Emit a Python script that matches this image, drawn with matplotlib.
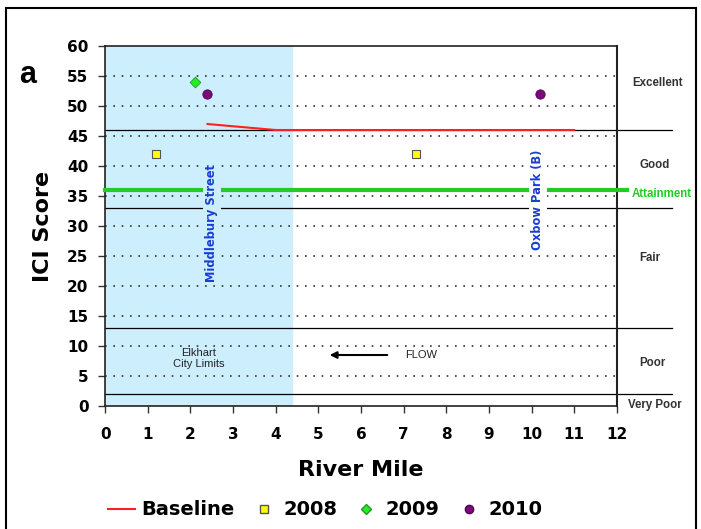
import matplotlib
matplotlib.use("Agg")
import matplotlib.pyplot as plt
from matplotlib.lines import Line2D
from matplotlib.patches import Rectangle

# Data
baseline_x = [2.4, 4.0, 11.0]
baseline_y = [47, 46, 46]
x2008 = [1.2, 7.3]
y2008 = [42, 42]
x2009 = [2.1]
y2009 = [54]
x2010 = [2.4, 10.2]
y2010 = [52, 52]
thresholds = [46, 33, 13, 2]
attainment = 36
class_labels = ["Excellent", "Good", "Fair", "Poor", "Very Poor"]
class_label_x = [12.96, 12.89, 12.77, 12.84, 12.89]
class_label_y = [53.8, 40.2, 24.6, 7.1, 0.2]

fig = plt.figure(figsize=(7.01, 5.29), dpi=100)
ax = fig.add_axes([0.150, 0.2325, 0.730, 0.6805])
ax.set_xlim(0, 12)
ax.set_ylim(0, 60)

# figure border
fig.patches.append(Rectangle((0.008, -0.02), 0.985, 1.005, transform=fig.transFigure,
                             fill=False, edgecolor='black', linewidth=1.5))

# shaded region
ax.axvspan(0, 4.38, color='#cdeefc', zorder=0)

# dotted gridlines
for v in range(5, 60, 5):
    ax.plot([0, 12], [v, v], linestyle=(0, (1, 4)), color='#333333', linewidth=1.2, zorder=1)

# threshold lines extending beyond axes
for t in thresholds:
    ax.plot([0, 13.3], [t, t], color='black', linewidth=0.9, clip_on=False, zorder=2)

# attainment line
ax.plot([0, 12.23], [attainment, attainment], color='#22cc22', linewidth=3, clip_on=False, zorder=3)

# vertical site labels with background to create gaps
ax.text(2.5, 30.5, "Middlebury Street", rotation=90, ha='center', va='center', color='#1a3fd0',
        fontsize=8.3, fontweight='bold', zorder=4,
        bbox=dict(boxstyle='square,pad=0.2', fc='#cdeefc', ec='none'))
ax.text(10.15, 34.3, "Oxbow Park (B)", rotation=90, ha='center', va='center', color='#1a3fd0',
        fontsize=8.3, fontweight='bold', zorder=4,
        bbox=dict(boxstyle='square,pad=0.2', fc='white', ec='none'))

# baseline
ax.plot(baseline_x, baseline_y, color='#ff2020', linewidth=1.5, zorder=5)

# points
ax.scatter(x2008, y2008, marker='s', s=40, facecolor='#ffff00', edgecolor='#555555', linewidth=0.8, zorder=6)
ax.scatter(x2009, y2009, marker='D', s=30, facecolor='#22ee22', edgecolor='#229922', linewidth=0.6, zorder=6)
ax.scatter(x2010, y2010, marker='o', s=45, facecolor='#7a0a7a', edgecolor='#550055', linewidth=0.6, zorder=6)

# annotations
ax.text(2.2, 7.9, "Elkhart\nCity Limits", ha='center', va='center', fontsize=8, color='#222222',
        linespacing=1.2, family='Liberation Sans')
ax.annotate("", xy=(5.2, 8.5), xytext=(6.68, 8.5),
            arrowprops=dict(arrowstyle='-|>', color='black', lw=1.5, mutation_scale=10))
ax.text(7.4, 8.5, "FLOW", ha='center', va='center', fontsize=8, color='#222222', family='Liberation Sans')

# class labels on right
for lab, xv, yv in zip(class_labels, class_label_x, class_label_y):
    ax.text(xv, yv, lab, ha='center', va='center', fontsize=8.3, fontweight='bold',
            color='#333333', clip_on=False, family='Liberation Sans')
ax.text(13.05, 35.3, "Attainment", ha='center', va='center', fontsize=8.3, fontweight='bold',
        color='#22cc22', clip_on=False, family='Liberation Sans')

# axes styling
ax.set_xticks(range(0, 13))
ax.set_yticks(range(0, 61, 5))
for lbl in ax.get_xticklabels() + ax.get_yticklabels():
    lbl.set_fontweight('bold')
    lbl.set_fontsize(11)
    lbl.set_family('DejaVu Sans')
ax.tick_params(axis='both', direction='out', length=5, width=1, color='#333333')
ax.tick_params(axis='x', pad=10)
ax.tick_params(axis='y', pad=7)
for s in ax.spines.values():
    s.set_linewidth(1.2)
    s.set_color('#222222')
ax.spines['right'].set_linewidth(1.5)

ax.set_xlabel("River Mile", fontsize=16, fontweight='bold', family='DejaVu Sans', labelpad=13)
ax.set_ylabel("ICI Score", fontsize=16, fontweight='bold', family='DejaVu Sans', labelpad=10)

fig.text(0.04, 0.858, "a", fontsize=22, fontweight='bold', family='Liberation Sans',
         ha='center', va='center')

# legend
handles = [
    Line2D([], [], color='#ff2020', lw=1.5),
    Line2D([], [], marker='s', ls='none', markersize=6, markerfacecolor='#ffff00', markeredgecolor='#555555'),
    Line2D([], [], marker='D', ls='none', markersize=5, markerfacecolor='#22ee22', markeredgecolor='#229922'),
    Line2D([], [], marker='o', ls='none', markersize=6, markerfacecolor='#7a0a7a', markeredgecolor='#550055'),
]
fig.legend(handles, ["Baseline", "2008", "2009", "2010"], loc='center', bbox_to_anchor=(0.464, 0.036),
           ncol=4, frameon=False, prop=dict(size=14, weight='bold', family='DejaVu Sans'),
           handlelength=1.4, columnspacing=0.8, handletextpad=0.3)

fig.savefig("out.png", dpi=100)
